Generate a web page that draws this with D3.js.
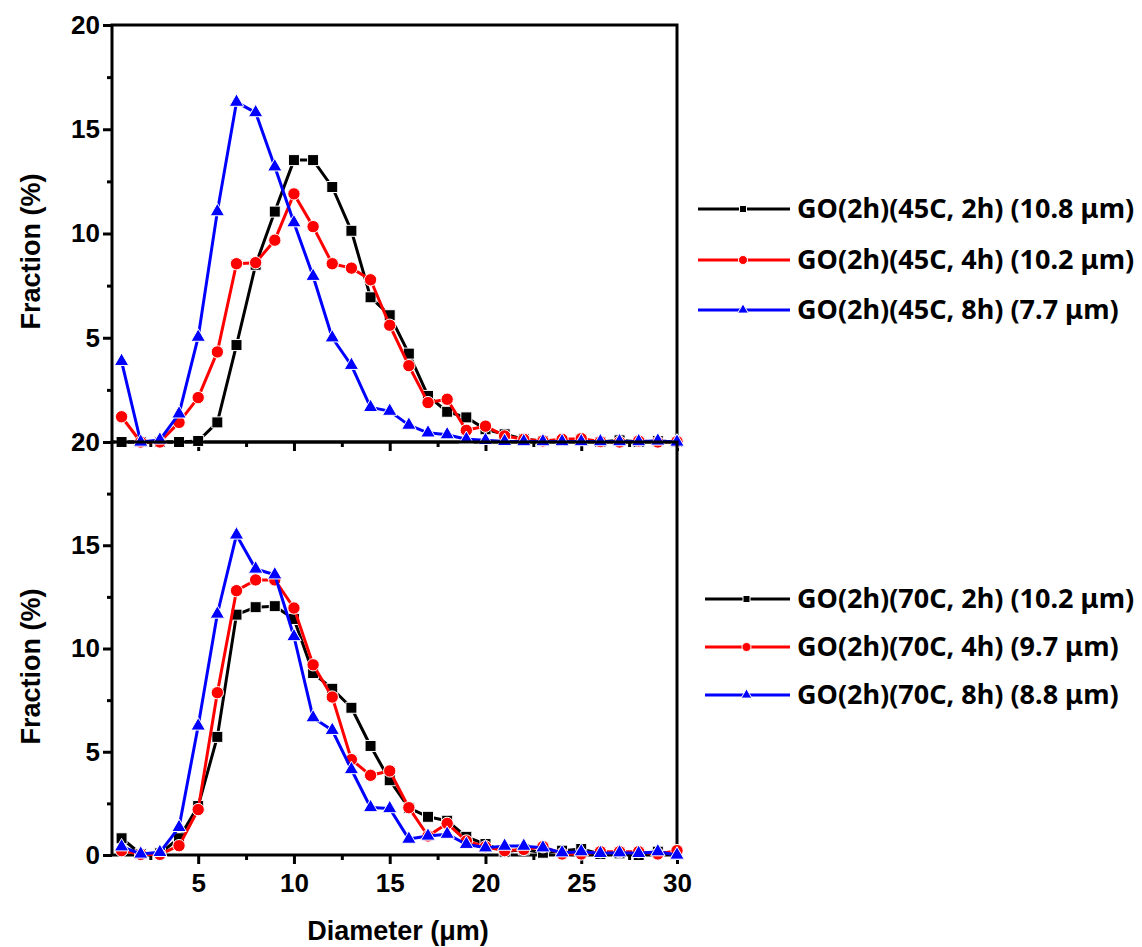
<!DOCTYPE html>
<html>
<head>
<meta charset="utf-8">
<script src="https://cdn.jsdelivr.net/npm/d3@7"></script>
<style>
  body { margin: 0; background: #fff; }
  svg text { font-family: "Liberation Sans", Arial, sans-serif; font-weight: bold; }
  .legend text { font-family: "Noto Sans", sans-serif; }
</style>
</head>
<body>
<div id="chart"></div>
<script>
// diameter bins (um)
const diameters = d3.range(1, 31);

// top panel: 45C
const top2h = [0, 0, 0, 0, 0.05, 0.94, 4.65, 8.5, 11.05, 13.52, 13.52, 12.23, 10.13, 6.94, 6.08,
  4.24, 2.21, 1.45, 1.18, 0.61, 0.37, 0.13, 0.05, 0.05, 0.1, 0, 0.08, 0, 0.05, 0];
const top4h = [1.21, 0, 0, 0.94, 2.13, 4.32, 8.55, 8.6, 9.68, 11.9, 10.33, 8.55, 8.34, 7.78, 5.6,
  3.66, 1.89, 2.05, 0.56, 0.76, 0.29, 0.13, 0.05, 0.13, 0.16, 0.02, 0, 0.05, 0, 0.02];
const top8h = [3.87, 0, 0.1, 1.35, 5.03, 11.05, 16.3, 15.8, 13.2, 10.52, 7.95, 5.0, 3.68, 1.66, 1.48,
  0.81, 0.44, 0.35, 0.13, 0.08, 0.03, 0.02, 0.02, 0.02, 0.02, 0.02, 0.02, 0.02, 0.05, 0];

// bottom panel: 70C
const bot2h = [0.81, 0.05, 0.08, 0.81, 2.37, 5.72, 11.64, 12.0, 12.05, 11.43, 8.81, 8.05, 7.13, 5.28, 3.62,
  2.28, 1.85, 1.66, 0.88, 0.53, 0.16, 0.27, 0.11, 0.21, 0.29, 0.05, 0.08, 0, 0.16, 0.05];
const bot4h = [0.21, 0.03, 0.03, 0.45, 2.2, 7.86, 12.8, 13.32, 13.32, 11.96, 9.21, 7.65, 4.62, 3.86, 4.07,
  2.29, 0.92, 1.53, 0.68, 0.4, 0.21, 0.27, 0.4, 0.05, 0.05, 0.16, 0.16, 0.16, 0.05, 0.21];
const bot8h = [0.4, 0.05, 0.13, 1.34, 6.25, 11.67, 15.5, 13.85, 13.57, 10.58, 6.65, 6.04, 4.14, 2.3, 2.25,
  0.77, 0.92, 1.01, 0.52, 0.35, 0.43, 0.43, 0.35, 0.11, 0.16, 0.08, 0.11, 0.08, 0.16, 0];

const topNames = ["GO(2h)(45C, 2h) (10.8 \u03bcm)", "GO(2h)(45C, 4h) (10.2 \u03bcm)", "GO(2h)(45C, 8h) (7.7 \u03bcm)"];
const botNames = ["GO(2h)(70C, 2h) (10.2 \u03bcm)", "GO(2h)(70C, 4h) (9.7 \u03bcm)", "GO(2h)(70C, 8h) (8.8 \u03bcm)"];

const colors = ["#000000", "#ff0000", "#0000ff"];
const symbols = [d3.symbolSquare, d3.symbolCircle, d3.symbolTriangle];
const symSize = [121, 120, 90];
const legSize = [49, 64, 50];

const xTicks = [5, 10, 15, 20, 25, 30];
const yTicks = [0, 5, 10, 15, 20];

const svg = d3.select("#chart").append("svg").attr("width", 1142).attr("height", 947);

const x = d3.scaleLinear().domain([0.5, 30]).range([112, 677]);
const yTop = d3.scaleLinear().domain([0, 20]).range([442, 25]);
const yBot = d3.scaleLinear().domain([0, 20]).range([855, 442]);

function drawPanel(y, series, names, legendY, legX0, showXLabels) {
  const g = svg.append("g");

  // minor ticks
  g.append("g").attr("transform", "translate(112,0)")
    .call(d3.axisLeft(y).tickValues([2.5, 7.5, 12.5, 17.5]).tickSize(5).tickFormat(""))
    .call(a => a.select(".domain").remove());
  g.append("g").attr("transform", `translate(0,${y(0)})`)
    .call(d3.axisBottom(x).tickValues([2.5, 7.5, 12.5, 17.5, 22.5, 27.5]).tickSize(5).tickFormat(""))
    .call(a => a.select(".domain").remove());

  // major ticks
  const yAxis = g.append("g").attr("transform", "translate(112,0)")
    .call(d3.axisLeft(y).tickValues(showXLabels ? yTicks : yTicks.slice(1)).tickSize(9).tickPadding(3));
  yAxis.select(".domain").remove();
  yAxis.selectAll("text").style("font-size", "26px").attr("fill", "#000");

  const xAxis = g.append("g").attr("transform", `translate(0,${y(0)})`)
    .call(d3.axisBottom(x).tickValues(xTicks).tickSize(9).tickPadding(10)
      .tickFormat(showXLabels ? d3.format("d") : ""));
  xAxis.select(".domain").remove();
  xAxis.selectAll("text").style("font-size", "26px").attr("fill", "#000");
  g.selectAll(".tick line").attr("stroke", "#000").attr("stroke-width", 3);

  // frame
  g.append("rect")
    .attr("x", 112).attr("y", y(20))
    .attr("width", 677 - 112).attr("height", y(0) - y(20))
    .attr("fill", "none").attr("stroke", "#000").attr("stroke-width", 3);

  // y title
  svg.append("text")
    .attr("transform", `translate(40,${(y(0) + y(20)) / 2 + 18}) rotate(-90)`)
    .attr("text-anchor", "middle")
    .style("font-size", "27px")
    .text("Fraction (%)");

  const line = d3.line().x((d, i) => x(diameters[i])).y(d => y(d));

  series.forEach((vals, k) => {
    g.append("path").datum(vals)
      .attr("d", line)
      .attr("fill", "none")
      .attr("stroke", colors[k])
      .attr("stroke-width", 3)
      .attr("stroke-linejoin", "round");
    g.selectAll(null).data(vals).enter().append("path")
      .attr("transform", (d, i) => `translate(${x(diameters[i])},${y(d)})`)
      .attr("d", d3.symbol().type(symbols[k]).size(symSize[k]))
      .attr("fill", colors[k])
      .attr("stroke", "#fff")
      .attr("stroke-width", 1);
  });

  // legend
  const leg = svg.append("g").attr("class", "legend");
  names.forEach((name, k) => {
    const ly = legendY[k];
    leg.append("line")
      .attr("x1", legX0).attr("x2", 790).attr("y1", ly).attr("y2", ly)
      .attr("stroke", colors[k]).attr("stroke-width", 3);
    leg.append("path")
      .attr("transform", `translate(${(legX0 + 790) / 2 - 1},${ly})`)
      .attr("d", d3.symbol().type(symbols[k]).size(legSize[k]))
      .attr("fill", colors[k]).attr("stroke", "#fff").attr("stroke-width", 1);
    leg.append("text")
      .attr("x", 797).attr("y", ly + 9)
      .style("font-size", "27px")
      .text(name);
  });
}

drawPanel(yTop, [top2h, top4h, top8h], topNames, [209, 260, 310], 698, false);
drawPanel(yBot, [bot2h, bot4h, bot8h], botNames, [599, 647, 695], 705, true);

// x title
svg.append("text")
  .attr("x", 398).attr("y", 940)
  .attr("text-anchor", "middle")
  .style("font-size", "27px")
  .text("Diameter (\u03bcm)");
</script>
</body>
</html>
